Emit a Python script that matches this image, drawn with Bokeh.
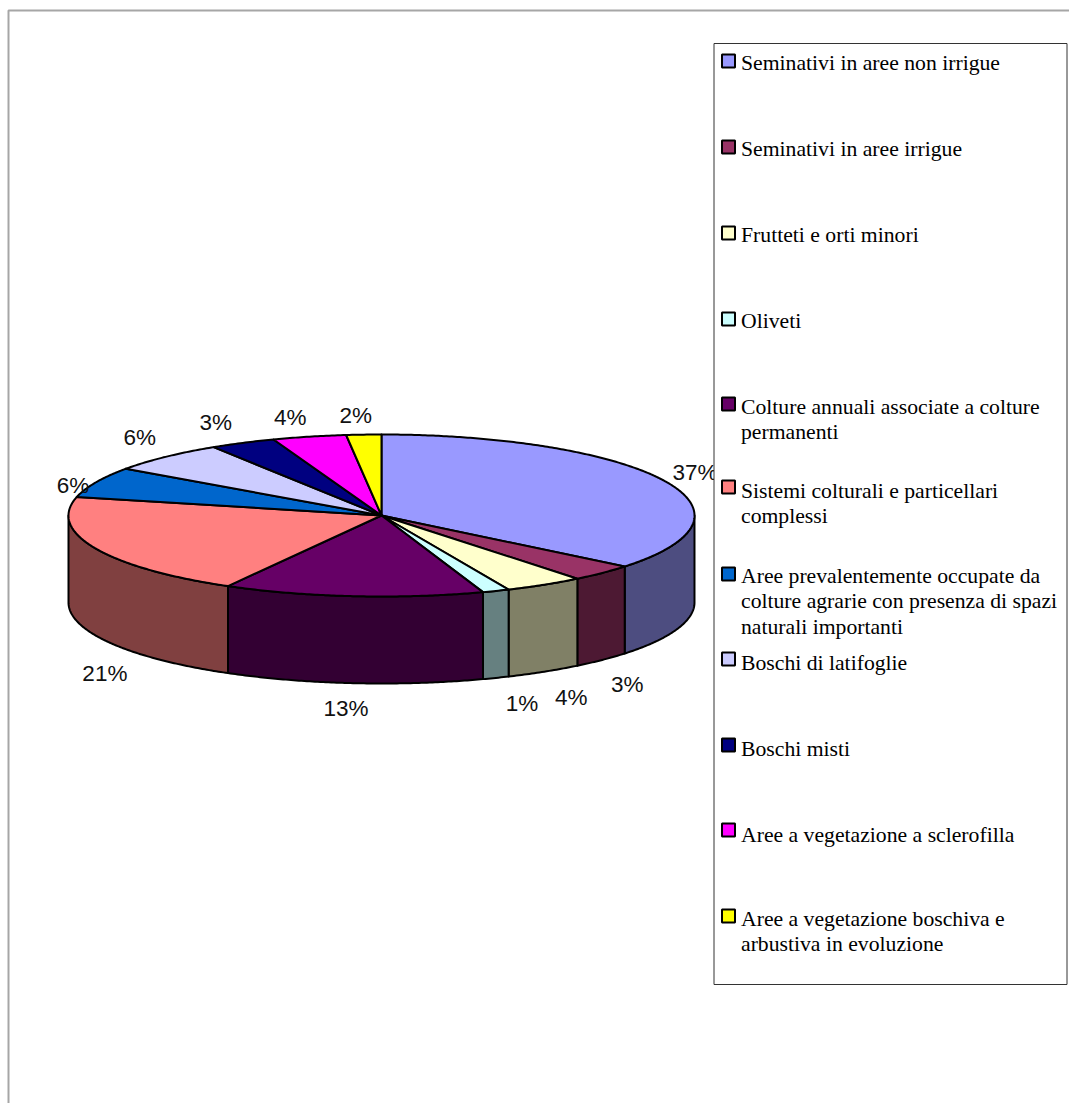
import math
from bokeh.plotting import figure
from bokeh.models import ColumnDataSource
from bokeh.core.properties import value
from bokeh.embed import file_html
from bokeh.resources import INLINE

categories = ["Seminativi in aree non irrigue", "Seminativi in aree irrigue", "Frutteti e orti minori",
              "Oliveti", "Colture annuali associate a colture\npermanenti",
              "Sistemi colturali e particellari\ncomplessi",
              "Aree prevalentemente occupate da\ncolture agrarie con presenza di spazi\nnaturali importanti",
              "Boschi di latifoglie", "Boschi misti", "Aree a vegetazione a sclerofilla",
              "Aree a vegetazione boschiva  e\narbustiva in evoluzione"]
shares = [35.8, 3.4, 4.1, 1.4, 13.4, 20.5, 6.1, 6.2, 3.4, 3.8, 1.8]
labels = ["37%", "3%", "4%", "1%", "13%", "21%", "6%", "6%", "3%", "4%", "2%"]
top_colors = ["#9999FF", "#993366", "#FFFFCC", "#CCFFFF", "#660066", "#FF8080",
              "#0066CC", "#CCCCFF", "#000080", "#FF00FF", "#FFFF00"]
side_colors = ["#4D4D80", "#4D1933", "#808066", "#668080", "#330033", "#804040",
               "#003366", "#666680", "#000040", "#800080", "#808000"]

# layout, in page pixels
CX, CY, RX, RY, DEPTH = 381, 515, 313, 81, 87
label_offsets = [(31, -8), (25, 112), (27, 113), (26, 113), (-7, 112), (10, 125),
                 (-23, 3), (-26, -19), (-27, -20), (-19, -19), (-8, -19)]
legend_text_y = [62, 148, 234, 320, 406, 490, 575, 662, 748, 834, 918]
legend_swatch_y = [61, 147, 233, 319, 404, 487, 574, 659, 745, 830, 916]
LINE_GAP = 25.5

p = figure(width=1069, height=1103, x_range=(0, 1069), y_range=(1103, 0),
           toolbar_location=None, output_backend="svg", min_border=0,
           background_fill_color="white", border_fill_color="white", outline_line_color=None)
p.axis.visible = False
p.grid.visible = False

# frame of the page
p.line([8, 8, 1069], [1103, 10, 10], line_color="#A6A6A6", line_width=2)


def rim(deg, drop=0.0):
    t = math.radians(deg)
    return CX + RX * math.sin(t), CY - RY * math.cos(t) + drop


total = sum(shares)
edges = [0.0]
for s in shares:
    edges.append(edges[-1] + 360 * s / total)

# sides (only the front half of the rim, 90..270 degrees)
sx, sy, sc = [], [], []
for i in range(len(shares)):
    a, b = max(edges[i], 90), min(edges[i + 1], 270)
    if b <= a:
        continue
    n = max(2, int(b - a) * 2)
    ang = [a + (b - a) * k / n for k in range(n + 1)]
    up = [rim(t) for t in ang]
    lo = [rim(t, DEPTH) for t in reversed(ang)]
    sx.append([q[0] for q in up + lo])
    sy.append([q[1] for q in up + lo])
    sc.append(side_colors[i])
p.patches("x", "y", source=ColumnDataSource(dict(x=sx, y=sy, c=sc)), fill_color="c",
          line_color="black", line_width=2, line_join="round")

# top slices
tx, ty = [], []
for i in range(len(shares)):
    a, b = edges[i], edges[i + 1]
    n = max(2, int(b - a) * 2)
    pts = [rim(a + (b - a) * k / n) for k in range(n + 1)]
    tx.append([CX] + [q[0] for q in pts])
    ty.append([CY] + [q[1] for q in pts])
p.patches("x", "y", source=ColumnDataSource(dict(x=tx, y=ty, c=top_colors)), fill_color="c",
          line_color="black", line_width=2, line_join="round")

# percentage labels
lx, ly = [], []
for i in range(len(shares)):
    mx, my = rim((edges[i] + edges[i + 1]) / 2)
    lx.append(mx + label_offsets[i][0])
    ly.append(my + label_offsets[i][1])
p.text(lx, ly, text=labels, text_font=value("Liberation Sans"), text_font_size="22.5px",
       text_color="#111111", text_align="center", text_baseline="middle")

# legend box
p.quad(left=[713.5], right=[1066.5], top=[43], bottom=[984], fill_color="white",
       line_color="#333333", line_width=1)
p.quad(left=[721.5] * 11, right=[734.5] * 11,
       top=[y - 7 for y in legend_swatch_y], bottom=[y + 6 for y in legend_swatch_y],
       fill_color=top_colors, line_color="black", line_width=2)
tx2, ty2, tt = [], [], []
for name, y in zip(categories, legend_text_y):
    for k, line in enumerate(name.split("\n")):
        tx2.append(740.5)
        ty2.append(y + k * LINE_GAP)
        tt.append(line)
p.text(tx2, ty2, text=tt, text_font=value("Liberation Serif"), text_font_size="21.7px",
       text_color="black", text_align="left", text_baseline="middle")

open("out.html", "w").write(file_html(p, INLINE))
